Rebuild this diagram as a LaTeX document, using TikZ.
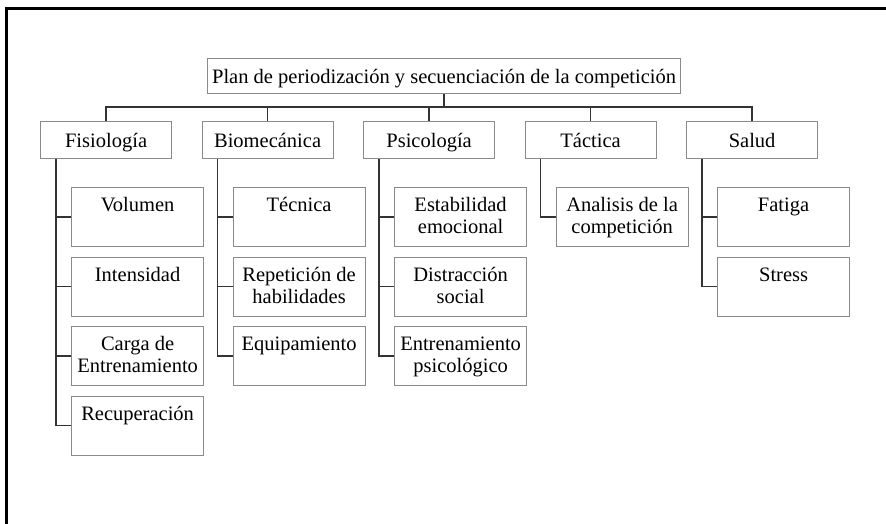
\documentclass[tikz,border=0pt]{standalone}
\usepackage{fontspec}
\setmainfont{Liberation Serif}
\definecolor{boxgray}{HTML}{8A8A8A}
\definecolor{linkgray}{HTML}{333333}
\begin{document}
\begin{tikzpicture}[x=1pt,y=-1pt,
  box/.style={draw=boxgray, line width=1.2pt, fill=white, inner sep=0pt, anchor=north west},
  topbox/.style={box, minimum width=131pt, minimum height=37pt, text height=16pt, text depth=1pt,
    font=\fontsize{20.5}{22}\selectfont},
  rootbox/.style={box, minimum width=473pt, minimum height=35pt, text height=16pt, text depth=1pt,
    font=\fontsize{20.5}{22}\selectfont},
  childbox/.style={box, minimum width=132pt, minimum height=59pt},
  childtext/.style={anchor=north, inner sep=0pt, align=center, font=\fontsize{20.5}{22}\selectfont},
  link/.style={draw=linkgray, line width=1.5pt}]
\useasboundingbox (0,0) rectangle (886,524);
\fill[white] (0,0) rectangle (886,524);
\draw[line width=3pt] (6,524) -- (6,8.5) -- (886,8.5);

% root
\node[rootbox] (root) at (207,58) {Plan de periodización y secuenciación de la competición};

% level 1
\node[topbox] (fis) at (40,121) {Fisiología};
\node[topbox] (bio) at (201.5,121) {Biomecánica};
\node[topbox] (psi) at (363,121) {Psicología};
\node[topbox] (tac) at (524.5,121) {Táctica};
\node[topbox] (sal) at (686,121) {Salud};

% bus
\draw[link] (root.south) -- (root.south |- 0,107);
\draw[link] (fis.north) |- (sal.north |- 0,107) -- (sal.north);
\draw[link] (bio.north) -- (bio.north |- 0,107);
\draw[link] (psi.north) -- (psi.north |- 0,107);
\draw[link] (tac.north) -- (tac.north |- 0,107);

% Fisiologia children
\node[childbox] (vol) at (71,187) {};
\node[childbox] (int) at (71,256.5) {};
\node[childbox] (car) at (71,326) {};
\node[childbox] (rec) at (71,395.5) {};
\node[childtext] (tvol) at ([yshift=-9pt]vol.north) {\strut Volumen};
\node[childtext] (tint) at ([yshift=-9pt]int.north) {\strut Intensidad};
\node[childtext] (tcar) at ([yshift=-9pt]car.north) {\strut Carga de\\Entrenamiento};
\node[childtext] (trec) at ([yshift=-9pt]rec.north) {\strut Recuperación};

% Biomecanica children
\node[childbox] (tec) at (232.5,187) {};
\node[childbox] (rep) at (232.5,256.5) {};
\node[childbox] (equ) at (232.5,326) {};
\node[childtext] (ttec) at ([yshift=-9pt]tec.north) {\strut Técnica};
\node[childtext] (trep) at ([yshift=-9pt]rep.north) {\strut Repetición de\\habilidades};
\node[childtext] (tequ) at ([yshift=-9pt]equ.north) {\strut Equipamiento};

% Psicologia children
\node[childbox] (est) at (394,187) {};
\node[childbox] (dis) at (394,256.5) {};
\node[childbox] (ent) at (394,326) {};
\node[childtext] (test) at ([yshift=-9pt]est.north) {\strut Estabilidad\\emocional};
\node[childtext] (tdis) at ([yshift=-9pt]dis.north) {\strut Distracción\\social};
\node[childtext] (tent) at ([yshift=-9pt]ent.north) {\strut Entrenamiento\\psicológico};

% Tactica children
\node[childbox] (ana) at (555.5,187) {};
\node[childtext] (tana) at ([yshift=-9pt]ana.north) {\strut Analisis de la\\competición};

% Salud children
\node[childbox] (fat) at (717,187) {};
\node[childbox] (str) at (717,256.5) {};
\node[childtext] (tfat) at ([yshift=-9pt]fat.north) {\strut Fatiga};
\node[childtext] (tstr) at ([yshift=-9pt]str.north) {\strut Stress};

% spines
\foreach \p/\c in {fis/vol,fis/int,fis/car,fis/rec,bio/tec,bio/rep,bio/equ,psi/est,psi/dis,psi/ent,tac/ana,sal/fat,sal/str}
  \draw[link] ([xshift=16pt]\p.south west) |- (\c.west);
\end{tikzpicture}
\end{document}
